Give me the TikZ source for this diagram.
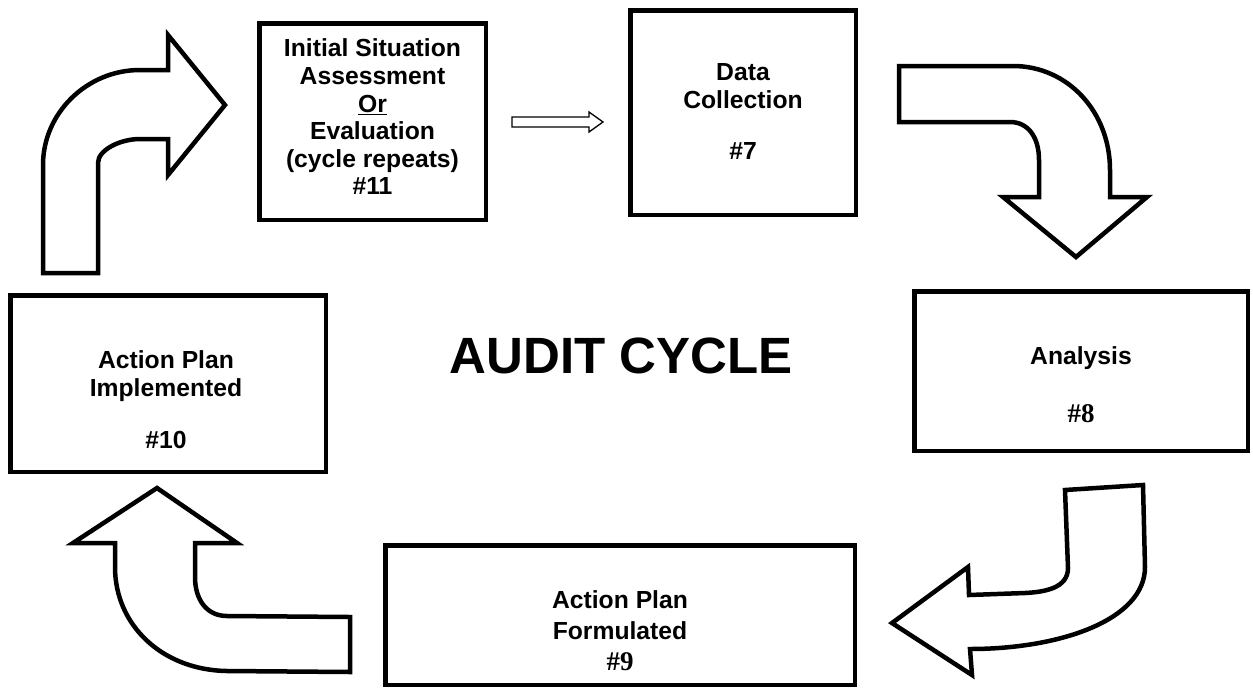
\documentclass[tikz,border=0pt]{standalone}
\usepackage{fontspec}
\setmainfont{Liberation Sans}
\newfontfamily\tnr{Liberation Serif}
\begin{document}
\begin{tikzpicture}[x=1pt,y=-1pt,
  box/.style={draw, line width=4.5pt, inner sep=0pt, outer sep=0pt},
  lbl/.style={align=center, font=\bfseries\fontsize{24.7}{27.6}\selectfont, inner sep=0pt},
  bigarrow/.style={draw, line width=4.5pt, fill=white, line join=miter},
  smallarrow/.style={draw, line width=1.3pt, fill=white, line join=miter}]
\useasboundingbox (0,0) rectangle (1253,689);

% boxes
\node[box, minimum width=226.5pt, minimum height=196.5pt] (b11) at (372.5,121.5) {};
\node[box, minimum width=225.5pt, minimum height=204.5pt] (b7) at (743,112.5) {};
\node[box, minimum width=333.5pt, minimum height=159.5pt] (b8) at (1081,371) {};
\node[box, minimum width=315.5pt, minimum height=176.5pt] (b10) at (168,383.5) {};
\node[box, minimum width=469.5pt, minimum height=139.5pt] (b9) at (620,615) {};

% texts
\node[lbl] (t11) at (372.5,117) {Initial Situation\\Assessment\\\underline{Or}\\Evaluation\\(cycle repeats)\\\#11};
\node[lbl] (t7) at (743,111.5) {Data\\Collection\\[24pt]\#7};
\node[lbl] (t8) at (1081,385) {Analysis\\[30.5pt]{\tnr\fontsize{27}{30}\selectfont\#8}};
\node[lbl] (t10) at (166,400) {Action Plan\\Implemented\\[25pt]\#10};
\node[lbl] (t9) at (620,631) {Action Plan\\[2.5pt]Formulated\\[4pt]{\tnr\fontsize{27}{30}\selectfont\#9}};
\node[inner sep=0pt, font=\bfseries\fontsize{51}{60}\selectfont] (title) at (621,356) {AUDIT CYCLE};

% small arrow b11 -> b7
\draw[smallarrow] (512,117) -- (589,117) -- (589,112) -- (603,122) -- (589,132) -- (589,127) -- (512,127) -- cycle;

% big arrow b10 -> b11
\draw[bigarrow] (43,273) -- (43,165) .. controls (43,113) and (87,70) .. (140,70) -- (168,70) -- (168,35) -- (225,105) -- (168,175) -- (168,139) -- (140,139) .. controls (120,139) and (98,150) .. (98,163) -- (98,273) -- cycle;

% big arrow b7 -> b8
\draw[bigarrow] (899,66) -- (1013,66) .. controls (1068,66) and (1110,112) .. (1110,170) -- (1110,197) -- (1147,197) -- (1076,257) -- (1003,197) -- (1039,197) -- (1039,160) .. controls (1039,137) and (1028,122) .. (1010,122) -- (899,122) -- cycle;

% big arrow b8 -> b9
\draw[bigarrow] (1065,490) -- (1143,485) -- (1145,567) .. controls (1145,620) and (1060,649) .. (970,649) -- (972,675) -- (892,623) -- (968,567) -- (969,595) -- (1025,593) .. controls (1045,592) and (1068,588) .. (1068,568) -- cycle;

% big arrow b9 -> b10
\draw[bigarrow] (350,617) -- (350,672) -- (227,671) .. controls (162,670) and (115,625) .. (115,567) -- (115,543) -- (73,543) -- (157,488) -- (237,543) -- (195,543) -- (195,577) .. controls (195,600) and (207,616) .. (227,616) -- cycle;
\end{tikzpicture}
\end{document}
